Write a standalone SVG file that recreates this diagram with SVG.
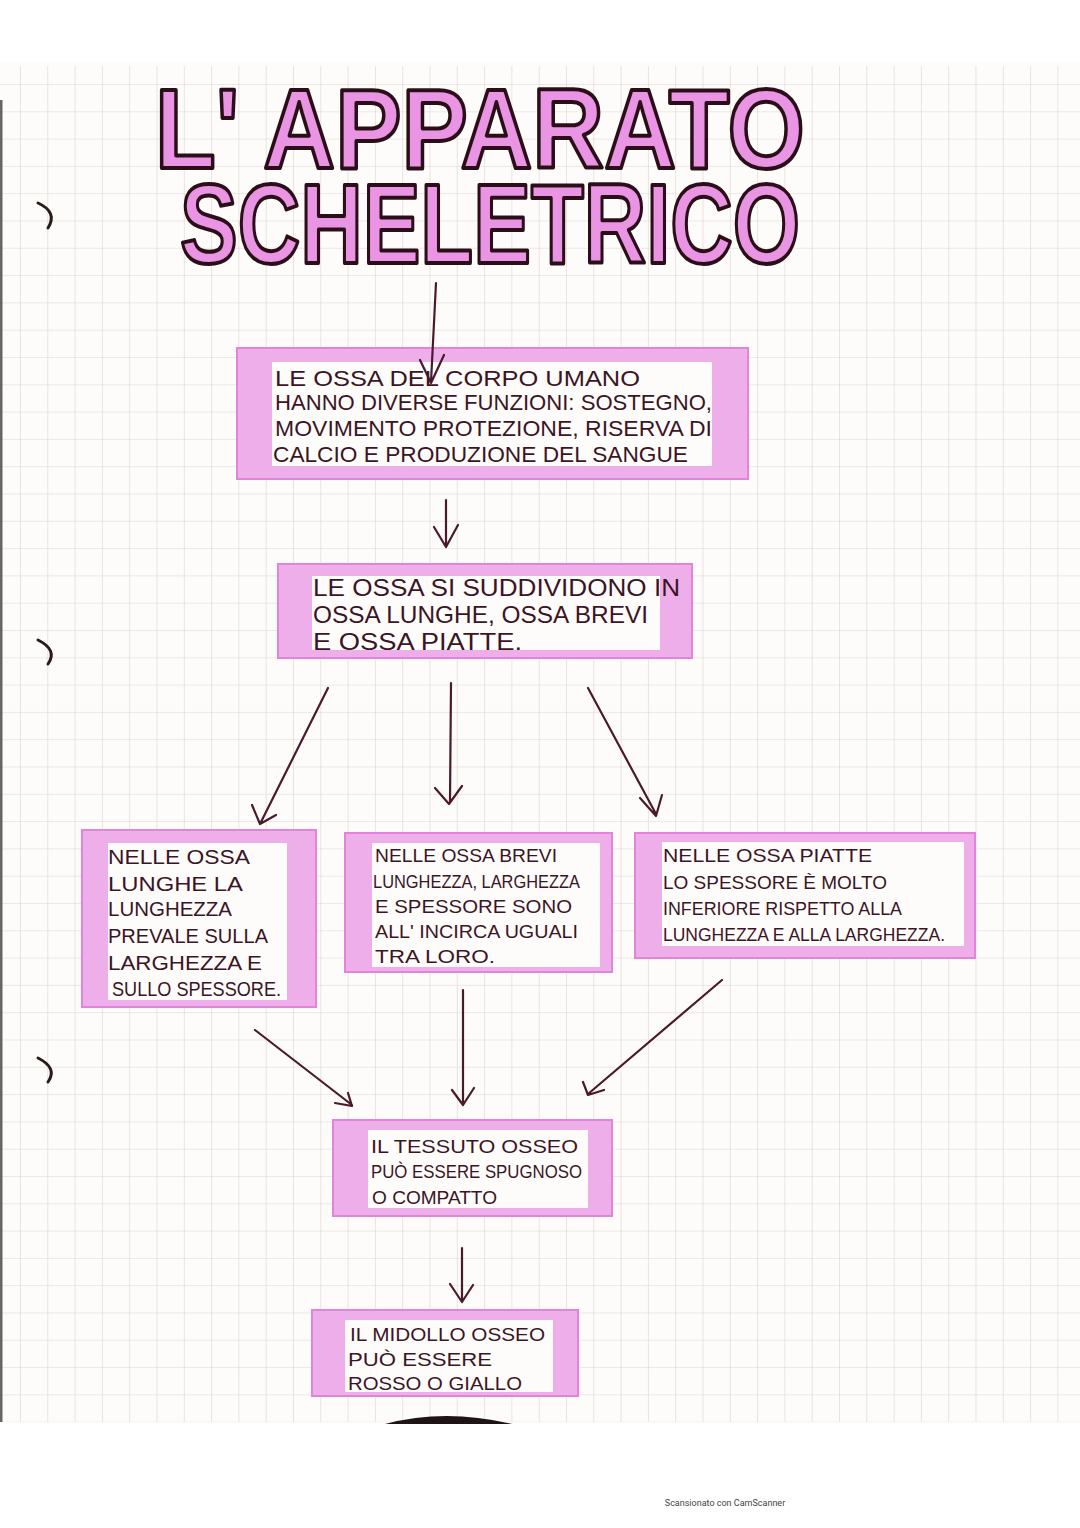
<svg xmlns="http://www.w3.org/2000/svg" width="1080" height="1528" viewBox="0 0 1080 1528">
<style>
.band{fill:#eeaee9;stroke:#e184da;stroke-width:2}
.inner{fill:#fdfcfa}
.t{font-family:"Liberation Sans","DejaVu Sans",sans-serif;fill:#3b1526;font-weight:normal}
.title{font-family:"Liberation Sans","DejaVu Sans",sans-serif;font-weight:bold;fill:#ea94e4;stroke:#2a0f18;stroke-width:4;stroke-linejoin:round}
.ar{fill:none;stroke:#4a1a2c;stroke-width:2.2;stroke-linecap:round;stroke-linejoin:round}
.ring{fill:none;stroke:#2a1a1a;stroke-width:3;stroke-linecap:round}
</style>
<defs>
<pattern id="grid" patternUnits="userSpaceOnUse" x="20" y="84" width="27.3" height="27.3">
<path d="M0 0V27.3M0 0H27.3" fill="none" stroke="#ded3cc" stroke-width="1.2"/>
</pattern>
</defs>
<rect width="1080" height="1528" fill="#ffffff"/>
<rect x="0" y="62" width="1080" height="1362" fill="#fdfcfa"/>
<rect x="0" y="66" width="1080" height="1356" fill="url(#grid)"/>
<rect x="0" y="100" width="2.5" height="1322" fill="#666"/>
<path d="M385 1424 Q445 1408 512 1424 Z" fill="#1e1416"/>
<g id="rings">
<path class="ring" d="M38 203 Q58 212 48 228"/>
<path class="ring" d="M38 640 Q58 650 48 664"/>
<path class="ring" d="M38 1058 Q58 1068 48 1082"/>
</g>
<g id="title">
<text class="title" font-size="113"><tspan x="155" y="168" textLength="650" lengthAdjust="spacingAndGlyphs">L' APPARATO</tspan><tspan x="180" y="263" textLength="620" lengthAdjust="spacingAndGlyphs">SCHELETRICO</tspan></text>
</g>
<g id="box1">
<rect class="band" x="237" y="348" width="511" height="131"/>
<rect class="inner" x="272" y="362" width="440" height="104"/>
<text class="t" font-size="22" x="275" y="386" textLength="365" lengthAdjust="spacingAndGlyphs">LE OSSA DEL CORPO UMANO</text>
<text class="t" font-size="22" x="275" y="410" textLength="437" lengthAdjust="spacingAndGlyphs">HANNO DIVERSE FUNZIONI: SOSTEGNO,</text>
<text class="t" font-size="22" x="275" y="436" textLength="437" lengthAdjust="spacingAndGlyphs">MOVIMENTO PROTEZIONE, RISERVA DI</text>
<text class="t" font-size="22" x="273" y="462" textLength="415" lengthAdjust="spacingAndGlyphs">CALCIO E PRODUZIONE DEL SANGUE</text>
</g>
<g id="box2">
<rect class="band" x="278" y="564" width="414" height="94"/>
<rect class="inner" x="312" y="576" width="348" height="74"/>
<text class="t" font-size="24" x="313" y="596" textLength="367" lengthAdjust="spacingAndGlyphs">LE OSSA SI SUDDIVIDONO IN</text>
<text class="t" font-size="24" x="313" y="623" textLength="335" lengthAdjust="spacingAndGlyphs">OSSA LUNGHE, OSSA BREVI</text>
<text class="t" font-size="24" x="313" y="650" textLength="209" lengthAdjust="spacingAndGlyphs">E OSSA PIATTE.</text>
</g>
<g id="box3">
<rect class="band" x="82" y="830" width="234" height="177"/>
<rect class="inner" x="108" y="843" width="179" height="157"/>
<text class="t" font-size="21" x="108" y="864" textLength="142" lengthAdjust="spacingAndGlyphs">NELLE OSSA</text>
<text class="t" font-size="21" x="108" y="891" textLength="135" lengthAdjust="spacingAndGlyphs">LUNGHE LA</text>
<text class="t" font-size="21" x="108" y="916" textLength="124" lengthAdjust="spacingAndGlyphs">LUNGHEZZA</text>
<text class="t" font-size="21" x="108" y="943" textLength="160" lengthAdjust="spacingAndGlyphs">PREVALE SULLA</text>
<text class="t" font-size="21" x="108" y="970" textLength="154" lengthAdjust="spacingAndGlyphs">LARGHEZZA E</text>
<text class="t" font-size="21" x="112" y="996" textLength="169" lengthAdjust="spacingAndGlyphs">SULLO SPESSORE.</text>
</g>
<g id="box4">
<rect class="band" x="345" y="833" width="267" height="139"/>
<rect class="inner" x="372" y="843" width="228" height="124"/>
<text class="t" font-size="19" x="375" y="862" textLength="182" lengthAdjust="spacingAndGlyphs">NELLE OSSA BREVI</text>
<text class="t" font-size="19" x="373" y="888" textLength="207" lengthAdjust="spacingAndGlyphs">LUNGHEZZA, LARGHEZZA</text>
<text class="t" font-size="19" x="375" y="913" textLength="197" lengthAdjust="spacingAndGlyphs">E SPESSORE SONO</text>
<text class="t" font-size="19" x="375" y="938" textLength="203" lengthAdjust="spacingAndGlyphs">ALL' INCIRCA UGUALI</text>
<text class="t" font-size="19" x="375" y="963" textLength="120" lengthAdjust="spacingAndGlyphs">TRA LORO.</text>
</g>
<g id="box5">
<rect class="band" x="635" y="833" width="340" height="125"/>
<rect class="inner" x="662" y="842" width="302" height="104"/>
<text class="t" font-size="18" x="663" y="862" textLength="209" lengthAdjust="spacingAndGlyphs">NELLE OSSA PIATTE</text>
<text class="t" font-size="18" x="663" y="889" textLength="224" lengthAdjust="spacingAndGlyphs">LO SPESSORE È MOLTO</text>
<text class="t" font-size="18" x="663" y="915" textLength="239" lengthAdjust="spacingAndGlyphs">INFERIORE RISPETTO ALLA</text>
<text class="t" font-size="18" x="663" y="941" textLength="282" lengthAdjust="spacingAndGlyphs">LUNGHEZZA E ALLA LARGHEZZA.</text>
</g>
<g id="box6">
<rect class="band" x="333" y="1120" width="279" height="96"/>
<rect class="inner" x="368" y="1130" width="220" height="78"/>
<text class="t" font-size="19" x="371" y="1153" textLength="207" lengthAdjust="spacingAndGlyphs">IL TESSUTO OSSEO</text>
<text class="t" font-size="19" x="371" y="1178" textLength="211" lengthAdjust="spacingAndGlyphs">PUÒ ESSERE SPUGNOSO</text>
<text class="t" font-size="19" x="372" y="1204" textLength="125" lengthAdjust="spacingAndGlyphs">O COMPATTO</text>
</g>
<g id="box7">
<rect class="band" x="312" y="1310" width="266" height="86"/>
<rect class="inner" x="345" y="1320" width="208" height="72"/>
<text class="t" font-size="19" x="350" y="1341" textLength="195" lengthAdjust="spacingAndGlyphs">IL MIDOLLO OSSEO</text>
<text class="t" font-size="19" x="348" y="1366" textLength="144" lengthAdjust="spacingAndGlyphs">PUÒ ESSERE</text>
<text class="t" font-size="19" x="348" y="1390" textLength="174" lengthAdjust="spacingAndGlyphs">ROSSO O GIALLO</text>
</g>
<g id="connectors">
<path class="ar" d="M436 283 L431 382 M420 360 L431 383 L444 355"/>
<path class="ar" d="M446 500 L446 545 M434 527 L446 547 L458 525"/>
<path class="ar" d="M328 688 L261 822 M252 805 L260 824 L276 815"/>
<path class="ar" d="M451 683 L450 802 M435 788 L449 804 L462 786"/>
<path class="ar" d="M588 688 L656 814 M640 798 L656 816 L662 795"/>
<path class="ar" d="M255 1030 L352 1105 M335 1103 L352 1106 L348 1093"/>
<path class="ar" d="M463 990 L463 1103 M452 1090 L463 1105 L474 1088"/>
<path class="ar" d="M722 980 L588 1094 M583 1082 L588 1095 L604 1090"/>
<path class="ar" d="M462 1248 L462 1300 M450 1284 L462 1302 L473 1285"/>
</g>
<text x="725" y="1506" font-family="Roboto,'Liberation Sans',sans-serif" font-size="9" fill="#444" text-anchor="middle">Scansionato con CamScanner</text>
</svg>
